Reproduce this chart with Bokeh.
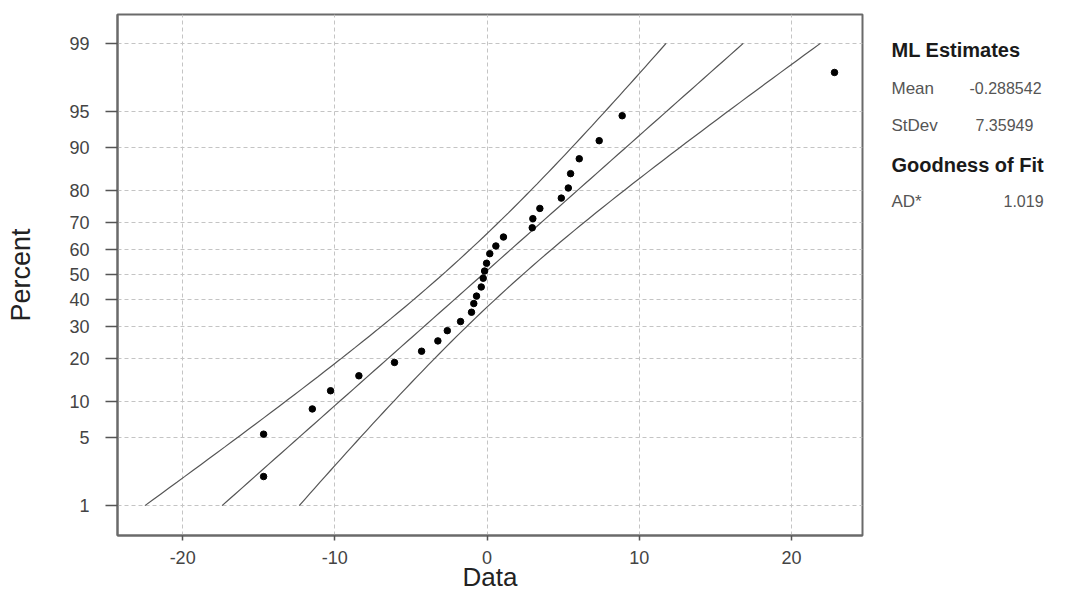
from statistics import NormalDist
import numpy as np
from bokeh.plotting import figure
from bokeh.models import Range1d, FixedTicker
from bokeh.layouts import row
from bokeh.core.properties import value
from bokeh.embed import file_html
from bokeh.resources import INLINE

# ---- data ----
data_x = [-14.68, -14.68, -11.48, -10.28, -8.42, -6.08, -4.30, -3.23, -2.61, -1.74,
          -1.02, -0.87, -0.69, -0.38, -0.25, -0.16, -0.03, 0.18, 0.58, 1.08,
          2.97, 3.01, 3.47, 4.88, 5.34, 5.49, 6.06, 7.37, 8.88, 22.83]
data_pct = [2.1, 5.4, 8.8, 12.1, 15.4, 18.8, 22.0, 25.2, 28.6, 31.8,
            35.2, 38.5, 41.4, 45.0, 48.5, 51.4, 54.5, 58.3, 61.3, 64.7,
            68.1, 71.3, 74.7, 77.9, 80.8, 84.5, 87.8, 91.1, 94.5, 97.9]
pct_ticks = [1, 5, 10, 20, 30, 40, 50, 60, 70, 80, 90, 95, 99]
x_ticks = [-20, -10, 0, 10, 20]
stat_names = ["Mean", "StDev"]
stat_values = ["-0.288542", "7.35949"]
gof_names = ["AD*"]
gof_values = ["1.019"]
mean_est = -0.288542
stdev_est = 7.35949
n_obs = 30

nd = NormalDist()
def zq(p):
    return nd.inv_cdf(p / 100.0)

# ---- layout ----
TOTAL_W, H = 1050, 594
BL, BT, BR, BB = 117, 14, 8, 58
FW = 745
W = BL + FW + BR
X0, X1 = -24.28, 24.67
Y0, Y1 = -2.627, 2.617
FONT = "Liberation Sans"

p = figure(width=W, height=H, output_backend="svg", toolbar_location=None,
           x_range=Range1d(X0, X1), y_range=Range1d(Y0, Y1),
           min_border_left=BL, min_border_right=BR, min_border_top=BT,
           min_border_bottom=BB)
p.background_fill_color = "white"
p.border_fill_color = "white"
p.outline_line_color = "#6a6a6a"
p.outline_line_width = 2

# axes
p.xaxis.ticker = FixedTicker(ticks=x_ticks)
p.xaxis.major_label_overrides = {t: str(t) for t in x_ticks}
yt = [zq(v) for v in pct_ticks]
p.yaxis.ticker = FixedTicker(ticks=yt)
p.yaxis.major_label_overrides = {z: str(v) for z, v in zip(yt, pct_ticks)}
for ax in (p.xaxis[0], p.yaxis[0]):
    ax.axis_line_color = "#6a6a6a"
    ax.axis_line_width = 2
    ax.major_tick_line_color = "#555555"
    ax.major_tick_line_width = 1.5
    ax.major_tick_in = 0
    ax.minor_tick_line_color = None
    ax.major_label_text_font = FONT
    ax.major_label_text_font_size = "18px"
    ax.major_label_text_color = "#444444"
    ax.axis_label_text_font = FONT
    ax.axis_label_text_font_style = "normal"
    ax.axis_label_text_color = "#222222"
p.xaxis.major_tick_out = 5
p.xaxis.major_label_standoff = 10
p.yaxis.major_tick_out = 12
p.yaxis.major_label_standoff = 16
p.xaxis.axis_label = "Data"
p.xaxis.axis_label_text_font_size = "26px"
p.xaxis.axis_label_standoff = -5
p.yaxis.axis_label = "Percent"
p.yaxis.axis_label_text_font_size = "27px"
p.yaxis.axis_label_standoff = 30

# grids
for g in (p.xgrid[0], p.ygrid[0]):
    g.grid_line_color = "#c4c4c4"
    g.grid_line_dash = "4 3"
    g.grid_line_width = 1

# fitted line and 95% confidence band
zz = np.linspace(zq(1), zq(99), 80)
fit = mean_est + zz * stdev_est
se = stdev_est * np.sqrt(1.0 / n_obs + zz ** 2 / (2.0 * n_obs))
for xs in (fit - 1.96 * se, fit, fit + 1.96 * se):
    p.line(xs, zz, line_color="#555555", line_width=1.2)

# points
p.scatter([float(v) for v in data_x], [zq(v) for v in data_pct],
          marker="circle", size=6.5, fill_color="black", line_color="black")

# ---- side panel with the statistics (coordinates = picture pixels) ----
SW = TOTAL_W - W
side = figure(width=SW, height=H, output_backend="svg", toolbar_location=None,
              x_range=Range1d(W, W + SW), y_range=Range1d(H - BB, BT),
              x_axis_type=None, y_axis_type=None,
              min_border_left=0, min_border_right=0, min_border_top=BT,
              min_border_bottom=BB)
side.outline_line_color = None
side.grid.visible = False
side.background_fill_color = "white"
side.border_fill_color = "white"

def texts(xs, ys, strs, size, bold, color):
    side.text(x=xs, y=ys, text=strs, text_font=value(FONT),
              text_font_size=value(size),
              text_font_style="bold" if bold else "normal",
              text_color=color, text_align="left", text_baseline="alphabetic")

texts([891, 891], [50, 165], ["ML Estimates", "Goodness of Fit"], "20px", True, "#1a1a1a")
texts([891, 891], [88, 125], stat_names, "17px", False, "#555555")
texts([969, 975], [88, 125], stat_values, "16px", False, "#555555")
texts([891], [201], gof_names, "17px", False, "#555555")
texts([1003], [201], gof_values, "16px", False, "#555555")

layout = row(p, side)
open("out.html", "w").write(file_html(layout, INLINE))
